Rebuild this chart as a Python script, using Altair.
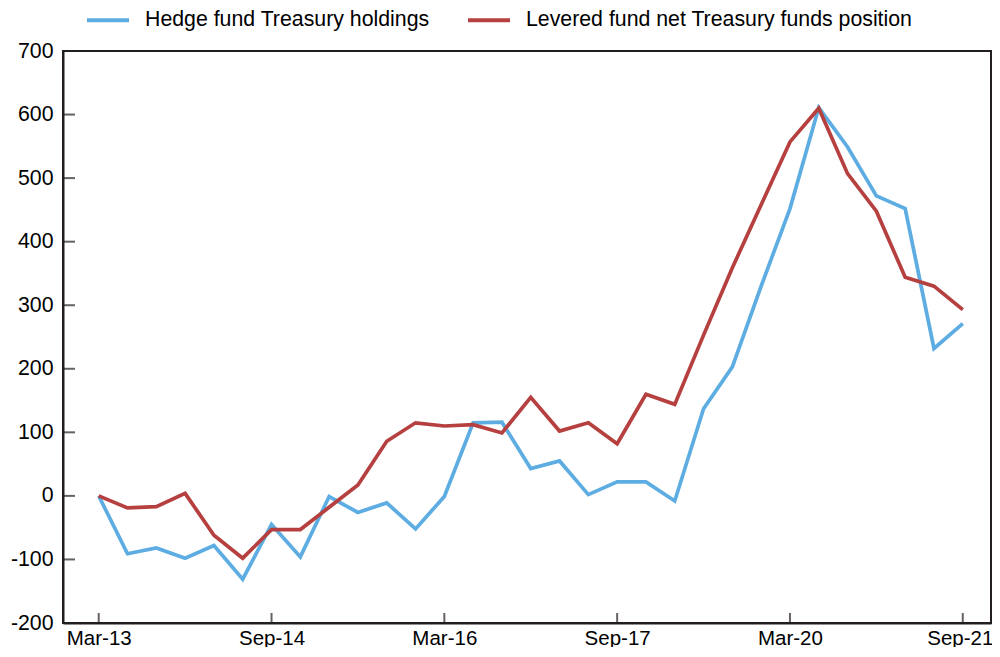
import altair as alt
import pandas as pd

hedge = [0, -91, -82, -98, -78, -131, -45, -96, -1, -26, -11, -52, -1, 115, 116, 43,
         55, 2, 22, 22, -8, 137, 203, 330, 452, 611, 549, 472, 452, 232, 271]
levered = [0, -19, -17, 4, -62, -98, -53, -53, -18, 17, 86, 115, 110, 112, 99, 155,
           102, 115, 82, 160, 144, 253, 359, 458, 557, 610, 507, 448, 344, 330, 293]
series_names = ["Hedge fund Treasury holdings", "Levered fund net Treasury funds position"]
series_colors = ["#5DADE2", "#B5403F"]
tick_index = [0, 6, 12, 18, 24, 30]
tick_labels = ["Mar-13", "Sep-14", "Mar-16", "Sep-17", "Mar-20", "Sep-21"]
y_ticks = [-200, -100, 0, 100, 200, 300, 400, 500, 600, 700]
y_inner_ticks = [-100, 0, 100, 200, 300, 400, 500, 600]

rows = []
for name, vals in zip(series_names, [hedge, levered]):
    for i, v in enumerate(vals):
        rows.append({"i": i, "value": v, "series": name})
df = pd.DataFrame(rows)

FONT = "Liberation Sans"
FS = 21.3
W, H = 928, 572
AX = "#231f20"

xscale = alt.Scale(domain=[-1.24, 30.98], nice=False, zero=False)
yscale = alt.Scale(domain=[-200, 700], nice=False)

label_expr = "[" + ",".join("'%s'" % t for t in tick_labels) + "][round(datum.value/6)]"
ylabel_expr = "datum.value < 0 ? '-' + abs(datum.value) : '' + datum.value"

lines = alt.Chart(df).mark_line(strokeWidth=3.7).encode(
    x=alt.X("i:Q", scale=xscale,
            axis=alt.Axis(values=tick_index, labelExpr=label_expr, title=None, ticks=False,
                          grid=False, labelFontSize=20.5, labelFont=FONT, labelColor="#000",
                          labelPadding=5, domainColor=AX, domainWidth=2,
                          labelOffset={"condition": {"test": "datum.value == 30", "value": -3},
                                       "value": 0})),
    y=alt.Y("value:Q", scale=yscale,
            axis=alt.Axis(values=y_ticks, labelExpr=ylabel_expr, title=None, ticks=False,
                          grid=False, labelFontSize=FS, labelFont=FONT, labelColor="#000",
                          labelPadding=10, domainColor=AX, domainWidth=2)),
    color=alt.Color("series:N",
                    scale=alt.Scale(domain=series_names, range=series_colors),
                    legend=alt.Legend(title=None, orient="none", direction="horizontal",
                                      legendX=22, legendY=-54, symbolType="stroke",
                                      symbolSize=1764, symbolStrokeWidth=4,
                                      labelFontSize=FS, labelFont=FONT, labelColor="#000",
                                      labelOffset=14, columnPadding=30, labelLimit=600)),
    order=alt.Order("i:Q"),
)

ytick_df = pd.DataFrame({"v": y_inner_ticks})
yticks_layer = alt.Chart(ytick_df).mark_tick(color=AX, thickness=2, size=12,
                                             orient="horizontal").encode(
    y=alt.Y("v:Q", scale=yscale),
    x=alt.value(6),
)
xtick_df = pd.DataFrame({"i": tick_index})
xticks_layer = alt.Chart(xtick_df).mark_tick(color=AX, thickness=2, size=10,
                                             orient="vertical").encode(
    x=alt.X("i:Q", scale=xscale),
    y=alt.value(H - 5),
)

chart = alt.layer(lines, yticks_layer, xticks_layer).properties(
    width=W, height=H,
    autosize=alt.AutoSizeParams(type="none"),
    padding={"left": 55, "top": 43, "right": 1, "bottom": 24},
).configure(background="white").configure_view(stroke=AX, strokeWidth=2)

chart.save("out.html", embed_options={"renderer": "svg", "actions": False})
